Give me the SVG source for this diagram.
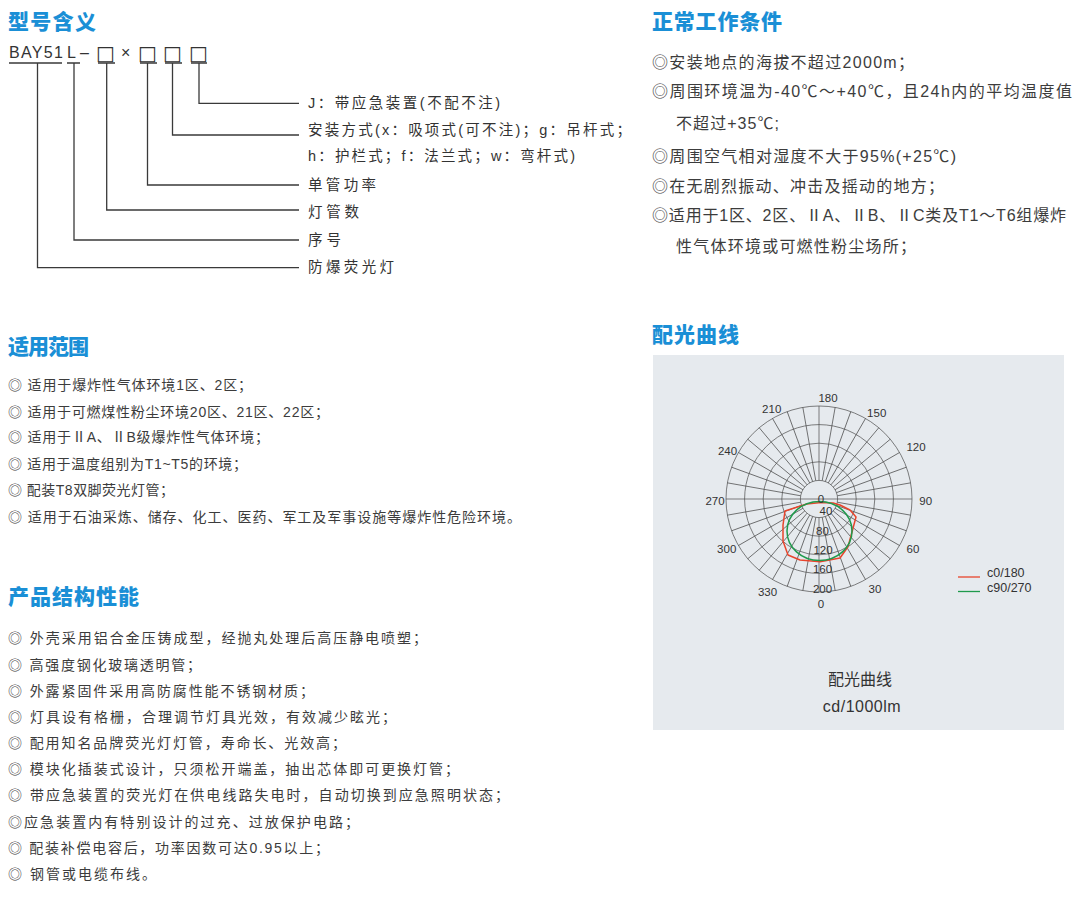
<svg xmlns="http://www.w3.org/2000/svg" xmlns:xlink="http://www.w3.org/1999/xlink" width="1074" height="921" viewBox="0 0 1074 921">
<defs>
<style>
.h{font-family:"Noto Sans CJK SC","Noto Sans",sans-serif;font-weight:900;font-size:21px;fill:#1a8fd6}
.t{font-family:"Liberation Sans","Noto Sans CJK SC",sans-serif;font-size:14px;fill:#3c3c3c}
.r{font-family:"Liberation Sans","Noto Sans CJK SC",sans-serif;font-size:16px;fill:#3c3c3c}
.m{font-family:"Liberation Sans","Noto Sans CJK SC",sans-serif;font-size:14.5px;fill:#333}
.code{font-family:"Liberation Sans","Noto Sans CJK SC",sans-serif;font-size:16px;fill:#333}
.box{font-family:"DejaVu Sans",sans-serif;font-size:20px;fill:#333}
.ln{stroke:#3a3a3a;stroke-width:1.3;fill:none}
.g{stroke:#4a4a4a;stroke-width:0.7;fill:none}
.pl{font-family:"Liberation Sans",Arial,sans-serif;font-size:11.5px;fill:#333;text-anchor:middle}
.lg{font-family:"Liberation Sans",Arial,sans-serif;font-size:12.5px;fill:#333}
.cap{font-family:"Liberation Sans","Noto Sans CJK SC",sans-serif;font-size:16px;fill:#333;text-anchor:middle}
</style>
<path id="spoke" d="M837.6 499H912M800.4 499H726"/>
</defs>
<rect width="1074" height="921" fill="#ffffff"/>

<g id="sec-model">
<text class="h" x="8" y="29" textLength="88" lengthAdjust="spacing">型号含义</text>
<g id="code">
<text class="code" x="9" y="58" textLength="54" lengthAdjust="spacing">BAY51</text>
<text class="code" x="67" y="58">L</text>
<text class="code" x="80" y="58">–</text>
<text class="box" x="96" y="60">□</text>
<text class="code" x="121" y="58">×</text>
<text class="box" x="138" y="60">□</text>
<text class="box" x="163" y="60">□</text>
<text class="box" x="189" y="60">□</text>
</g>
<g id="n-j"><text class="m" x="308" y="108" textLength="192" lengthAdjust="spacing">J：带应急装置(不配不注)</text></g>
<g id="n-install">
<text class="m" x="308" y="135" textLength="323" lengthAdjust="spacing">安装方式(x：吸项式(可不注)；g：吊杆式；</text>
<text class="m" x="308" y="161" textLength="267" lengthAdjust="spacing">h：护栏式；f：法兰式；w：弯杆式)</text>
</g>
<g id="n-power"><text class="m" x="308" y="190" textLength="68" lengthAdjust="spacing">单管功率</text></g>
<g id="n-count"><text class="m" x="308" y="217" textLength="51" lengthAdjust="spacing">灯管数</text></g>
<g id="n-seq"><text class="m" x="308" y="245" textLength="33" lengthAdjust="spacing">序号</text></g>
<g id="n-type"><text class="m" x="308" y="272" textLength="86" lengthAdjust="spacing">防爆荧光灯</text></g>
</g>

<g id="connectors" class="ln">
<path d="M9 63H62M67 63H80M98 63H115M140 63H157M165 63H182M191 63H207"/>
<path d="M37.5 63V267.7H299"/>
<path d="M74 63V240H299"/>
<path d="M106.7 63V210H299"/>
<path d="M147.5 63V185H299"/>
<path d="M172.5 63V135H299"/>
<path d="M199 63V103.3H299"/>
</g>

<g id="sec-conditions">
<text class="h" x="652" y="29" textLength="130" lengthAdjust="spacing">正常工作条件</text>
<text class="r" x="652" y="68" textLength="262" lengthAdjust="spacing">◎安装地点的海拔不超过2000m；</text>
<text class="r" x="652" y="97" textLength="420" lengthAdjust="spacing">◎周围环境温为-40℃～+40℃，且24h内的平均温度值</text>
<text class="r" x="676" y="129" textLength="103" lengthAdjust="spacing">不超过+35℃;</text>
<text class="r" x="652" y="162" textLength="304" lengthAdjust="spacing">◎周围空气相对湿度不大于95%(+25℃)</text>
<text class="r" x="652" y="192" textLength="292" lengthAdjust="spacing">◎在无剧烈振动、冲击及摇动的地方；</text>
<text class="r" x="652" y="221" textLength="414" lengthAdjust="spacing">◎适用于1区、2区、ⅡA、ⅡB、ⅡC类及T1～T6组爆炸</text>
<text class="r" x="676" y="252" textLength="240" lengthAdjust="spacing">性气体环境或可燃性粉尘场所；</text>
</g>

<g id="sec-scope">
<text class="h" x="8" y="354" textLength="81" lengthAdjust="spacing">适用范围</text>
<text class="t" x="8" y="390" textLength="244" lengthAdjust="spacing">◎ 适用于爆炸性气体环境1区、2区；</text>
<text class="t" x="8" y="416.5" textLength="321" lengthAdjust="spacing">◎ 适用于可燃煤性粉尘环境20区、21区、22区；</text>
<text class="t" x="8" y="442" textLength="261" lengthAdjust="spacing">◎ 适用于ⅡA、ⅡB级爆炸性气体环境；</text>
<text class="t" x="8" y="468.5" textLength="239" lengthAdjust="spacing">◎ 适用于温度组别为T1~T5的环境；</text>
<text class="t" x="8" y="495" textLength="166" lengthAdjust="spacing">◎ 配装T8双脚荧光灯管；</text>
<text class="t" x="8" y="521.5" textLength="513" lengthAdjust="spacing">◎ 适用于石油采炼、储存、化工、医药、军工及军事设施等爆炸性危险环境。</text>
</g>

<g id="sec-structure">
<text class="h" x="8" y="604" textLength="131" lengthAdjust="spacing">产品结构性能</text>
<text class="t" x="8" y="643" textLength="419" lengthAdjust="spacing">◎ 外壳采用铝合金压铸成型，经抛丸处理后高压静电喷塑；</text>
<text class="t" x="8" y="670" textLength="193" lengthAdjust="spacing">◎ 高强度钢化玻璃透明管；</text>
<text class="t" x="8" y="696" textLength="306" lengthAdjust="spacing">◎ 外露紧固件采用高防腐性能不锈钢材质；</text>
<text class="t" x="8" y="722" textLength="388" lengthAdjust="spacing">◎ 灯具设有格栅，合理调节灯具光效，有效减少眩光；</text>
<text class="t" x="8" y="748" textLength="338" lengthAdjust="spacing">◎ 配用知名品牌荧光灯灯管，寿命长、光效高；</text>
<text class="t" x="8" y="774" textLength="451" lengthAdjust="spacing">◎ 模块化插装式设计，只须松开端盖，抽出芯体即可更换灯管；</text>
<text class="t" x="8" y="800" textLength="501" lengthAdjust="spacing">◎ 带应急装置的荧光灯在供电线路失电时，自动切换到应急照明状态；</text>
<text class="t" x="8" y="827" textLength="351" lengthAdjust="spacing">◎应急装置内有特别设计的过充、过放保护电路；</text>
<text class="t" x="8" y="853" textLength="321" lengthAdjust="spacing">◎ 配装补偿电容后，功率因数可达0.95以上；</text>
<text class="t" x="8" y="879" textLength="148" lengthAdjust="spacing">◎ 钢管或电缆布线。</text>
</g>

<g id="sec-curve">
<text class="h" x="652" y="342" textLength="87" lengthAdjust="spacing">配光曲线</text>
<rect x="653" y="355" width="411" height="375" fill="#e6eaee"/>
<g id="grid" class="g">
<circle cx="819" cy="499" r="18.6"/>
<circle cx="819" cy="499" r="37.2"/>
<circle cx="819" cy="499" r="55.8"/>
<circle cx="819" cy="499" r="74.4"/>
<circle cx="819" cy="499" r="93"/>
<path d="M800.4 499H837.6"/>
<use xlink:href="#spoke"/>
<use xlink:href="#spoke" transform="rotate(10 819 499)"/>
<use xlink:href="#spoke" transform="rotate(20 819 499)"/>
<use xlink:href="#spoke" transform="rotate(30 819 499)"/>
<use xlink:href="#spoke" transform="rotate(40 819 499)"/>
<use xlink:href="#spoke" transform="rotate(50 819 499)"/>
<use xlink:href="#spoke" transform="rotate(60 819 499)"/>
<use xlink:href="#spoke" transform="rotate(70 819 499)"/>
<use xlink:href="#spoke" transform="rotate(80 819 499)"/>
<use xlink:href="#spoke" transform="rotate(90 819 499)"/>
<use xlink:href="#spoke" transform="rotate(100 819 499)"/>
<use xlink:href="#spoke" transform="rotate(110 819 499)"/>
<use xlink:href="#spoke" transform="rotate(120 819 499)"/>
<use xlink:href="#spoke" transform="rotate(130 819 499)"/>
<use xlink:href="#spoke" transform="rotate(140 819 499)"/>
<use xlink:href="#spoke" transform="rotate(150 819 499)"/>
<use xlink:href="#spoke" transform="rotate(160 819 499)"/>
<use xlink:href="#spoke" transform="rotate(170 819 499)"/>
</g>
<path id="c0" d="M821 502.5L833 503L840 505L850 510L856 517L852 532L848 546.7L840 558L820 561.7L800 560L788 555L783 541L783 525L785 511L806.7 504Z" fill="none" stroke="#e8452c" stroke-width="1.5" stroke-linejoin="round"/>
<ellipse id="c90" cx="819.5" cy="531" rx="32.5" ry="29.5" fill="none" stroke="#1f9a4c" stroke-width="1.5"/>
<g id="angles">
<text class="pl" x="828" y="401.5">180</text>
<text class="pl" x="771.7" y="413">210</text>
<text class="pl" x="876.7" y="416.5">150</text>
<text class="pl" x="727.5" y="455">240</text>
<text class="pl" x="916" y="451">120</text>
<text class="pl" x="715" y="505">270</text>
<text class="pl" x="925.7" y="505">90</text>
<text class="pl" x="726.7" y="553">300</text>
<text class="pl" x="913" y="553">60</text>
<text class="pl" x="767.5" y="596">330</text>
<text class="pl" x="875" y="593">30</text>
<text class="pl" x="821" y="608">0</text>
</g>
<g id="values">
<text class="pl" x="821" y="503.3">0</text>
<text class="pl" x="826" y="515">40</text>
<text class="pl" x="822.5" y="534.5">80</text>
<text class="pl" x="823" y="554">120</text>
<text class="pl" x="822.5" y="573">160</text>
<text class="pl" x="822.5" y="593">200</text>
</g>
<g id="legend">
<line x1="958" y1="577" x2="980" y2="577" stroke="#e8452c" stroke-width="1.3"/>
<text class="lg" x="987" y="577">c0/180</text>
<line x1="958" y1="591.5" x2="980" y2="591.5" stroke="#1f9a4c" stroke-width="1.3"/>
<text class="lg" x="987" y="591.5">c90/270</text>
</g>
<text class="cap" x="860" y="685">配光曲线</text>
<text class="cap" x="862" y="712" letter-spacing="0.5">cd/1000lm</text>
</g>
</svg>
